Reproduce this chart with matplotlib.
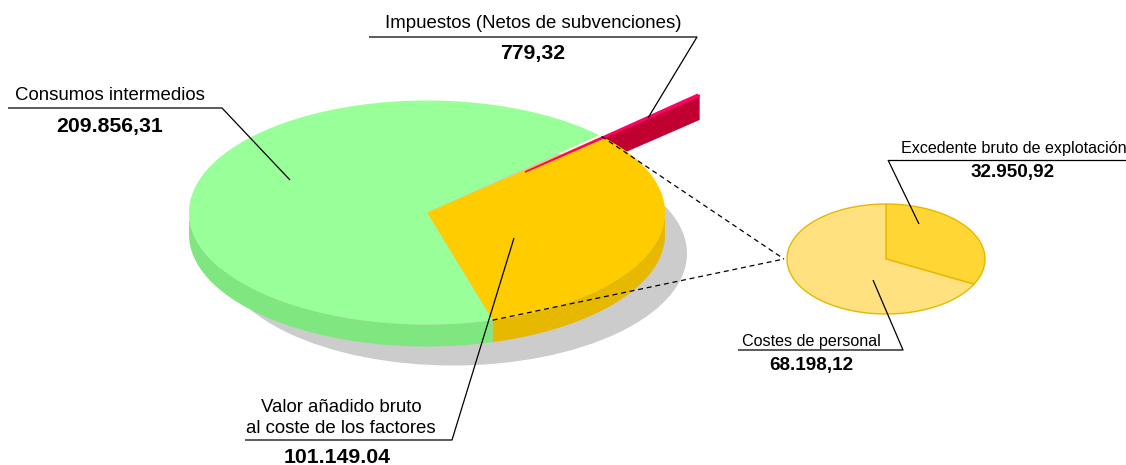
"""Pseudo 3D pie of the value added breakdown with a detail pie on the side."""

import matplotlib
matplotlib.use("Agg")

import matplotlib.pyplot as plt
import numpy as np
from matplotlib.patches import Ellipse, Polygon

plt.rcParams["font.family"] = ["Liberation Sans", "DejaVu Sans"]

# main pie, in drawing order from the start angle going counter-clockwise
main_values = [101149.04, 779.32, 209856.31]
main_top = ["#FFCC00", "#FF0066", "#99FF99"]
main_side = ["#E6B800", "#C00030", "#80E680"]

# detail pie, from the top going clockwise
detail_values = [32950.92, 68198.12]
detail_colors = ["#FFD633", "#FFE17F"]

CX, CY, RX, RY, DEPTH = 427, 212.5, 238, 112, 22
DX, DY, DRX, DRY = 886, 259, 99, 55


def rim(cx, cy, rx, ry, theta):
    """Points on an ellipse, theta in degrees, y axis pointing down."""
    t = np.radians(theta)
    return np.column_stack([cx + rx * np.cos(t), cy - ry * np.sin(t)])


def slice_edges(values, start, sign=1):
    fracs = np.array(values) / np.sum(values)
    return start + sign * 360 * np.concatenate([[0], np.cumsum(fracs)])


fig = plt.figure(figsize=(11.26, 4.65), dpi=100)
ax = fig.add_axes([0, 0, 1, 1])
ax.set_xlim(0, 1126)
ax.set_ylim(465, 0)
ax.axis("off")

ax.add_patch(Ellipse((453, CY + 41), 2 * 234, 2 * RY, color="#CCCCCC", lw=0, zorder=1))

edges = slice_edges(main_values, -74)

# red slice is pulled out along its own direction
ox, oy = 98, -40.5
red_a, red_b = edges[1], edges[2]
apex = np.array([CX + ox, CY + oy])
red_rim = rim(CX + ox, CY + oy, RX, RY, np.linspace(red_a, red_b, 5))
low = red_rim[0]
ax.add_patch(Polygon([apex, low, low + [0, DEPTH + 2], apex + [0, DEPTH + 2]],
                     color=main_side[1], lw=0, zorder=2))

# side walls, only the front half of the rim is visible
for i in (0, 2):
    a, b = edges[i], edges[i + 1]
    if i == 0:
        th = np.linspace(a, min(b, 0), 80)
    else:
        th = np.linspace(180, 286, 80)
    pts = rim(CX, CY, RX, RY, th)
    wall = np.vstack([pts, (pts + [0, DEPTH])[::-1]])
    ax.add_patch(Polygon(wall, color=main_side[i], lw=0, zorder=3))

for i in (0, 2):
    th = np.linspace(edges[i], edges[i + 1], 200)
    pts = np.vstack([[CX, CY], rim(CX, CY, RX, RY, th)])
    ax.add_patch(Polygon(pts, color=main_top[i], lw=0, zorder=4))

top_pts = np.vstack([apex, red_rim])
ax.add_patch(Polygon(top_pts, facecolor=main_top[1], edgecolor=main_top[1], lw=1.2, zorder=5))

# detail pie
d_edges = slice_edges(detail_values, 90, sign=-1)
for i in range(2):
    th = np.linspace(d_edges[i], d_edges[i + 1], 200)
    pts = np.vstack([[DX, DY], rim(DX, DY, DRX, DRY, th)])
    ax.add_patch(Polygon(pts, closed=True, facecolor=detail_colors[i], edgecolor="#E6B800", lw=1.0, zorder=4))

# dashed connectors
start_top = rim(CX, CY, RX, RY, [edges[1]])[0]
start_low = rim(CX, CY, RX, RY, [edges[0]])[0]
for p in (start_top, start_low):
    ax.plot([p[0], DX - DRX - 3], [p[1], DY], color="black", lw=0.9, ls=(0, (4, 3)), zorder=6)

# leaders: horizontal rule, then slanted line into the slice
leaders = [
    ([369, 697, 648], [37, 37, 118]),
    ([8, 222, 290], [108, 108, 180]),
    ([888, 1126], [160, 160]),
    ([888, 919], [160, 224]),
    ([738, 903, 873], [350, 350, 280]),
    ([245, 452, 514], [440, 440, 238]),
]
for xs, ys in leaders:
    ax.plot(xs, ys, color="black", lw=0.9, zorder=7, solid_capstyle="butt")

FS = 13.45
BOLD = 15.3
SMALL = 11.6
ax.text(533, 23, "Impuestos (Netos de subvenciones)", fontsize=FS, ha="center", va="center")
ax.text(532.5, 53.5, "779,32", fontsize=BOLD, fontweight="bold", ha="center", va="center")
ax.text(110, 95, "Consumos intermedios", fontsize=FS, ha="center", va="center")
ax.text(110, 126, "209.856,31", fontsize=BOLD, fontweight="bold", ha="center", va="center")
ax.text(1013.5, 148, "Excedente bruto de explotación", fontsize=SMALL, ha="center", va="center")
ax.text(1013, 172, "32.950,92", fontsize=13.6, fontweight="bold", ha="center", va="center")
ax.text(811, 341, "Costes de personal", fontsize=SMALL, ha="center", va="center")
ax.text(811, 365, "68.198,12", fontsize=13.6, fontweight="bold", ha="center", va="center")
ax.text(341, 407, "Valor añadido bruto", fontsize=FS, ha="center", va="center")
ax.text(341, 428, "al coste de los factores", fontsize=FS, ha="center", va="center")
ax.text(337.5, 457, "101.149.04", fontsize=BOLD, fontweight="bold", ha="center", va="center")

fig.savefig("out.png", dpi=100)
